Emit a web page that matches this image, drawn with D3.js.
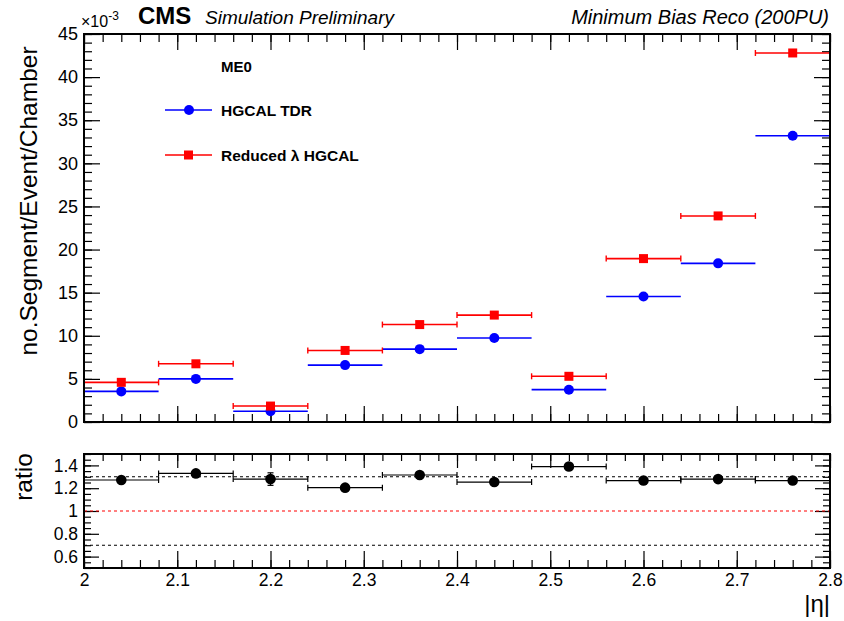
<!DOCTYPE html>
<html>
<head>
<meta charset="utf-8">
<script src="https://cdn.jsdelivr.net/npm/d3@7/dist/d3.min.js"></script>
<style>
  body { margin: 0; background: #fff; }
  svg { display: block; }
  text { font-family: "Liberation Sans", Arial, Helvetica, sans-serif; fill: #000; }
</style>
</head>
<body>
<svg id="chart" width="844" height="621"></svg>
<script>
// ---- data ----
const binEdges = [2.00, 2.08, 2.16, 2.24, 2.32, 2.40, 2.48, 2.56, 2.64, 2.72, 2.80];
const binCenters = [2.04, 2.12, 2.20, 2.28, 2.36, 2.44, 2.52, 2.60, 2.68, 2.76];
// no.Segment/Event/Chamber (x 10^-3)
const hgcalTDR = [3.55, 5.0, 1.25, 6.6, 8.45, 9.75, 3.75, 14.55, 18.4, 33.2];
const reducedLambda = [4.6, 6.75, 1.85, 8.3, 11.3, 12.4, 5.3, 18.95, 23.9, 42.8];
const ratio = [1.272, 1.33, 1.28, 1.205, 1.316, 1.254, 1.39, 1.267, 1.28, 1.267];
const ratioErr = [0.01, 0.01, 0.055, 0.01, 0.01, 0.01, 0.01, 0.01, 0.01, 0.01];
const xMajorTicks = [2.0, 2.1, 2.2, 2.3, 2.4, 2.5, 2.6, 2.7, 2.8];
const xTickLabels = ["2", "2.1", "2.2", "2.3", "2.4", "2.5", "2.6", "2.7", "2.8"];
const yMajorTicks = [0, 5, 10, 15, 20, 25, 30, 35, 40, 45];
const ratioMajorTicks = [0.6, 0.8, 1.0, 1.2, 1.4];
const ratioTickLabels = ["0.6", "0.8", "1", "1.2", "1.4"];
const ratioRefLines = [1.3, 1.0, 0.7];

// ---- layout ----
const L = 84, R = 830;
const topT = 34, topB = 422;
const ratT = 454, ratB = 568;

const svg = d3.select("#chart");
const x = d3.scaleLinear().domain([2, 2.8]).range([L, R]);
const y = d3.scaleLinear().domain([0, 45]).range([topB, topT]);
const yr = d3.scaleLinear().domain([0.5, 1.5]).range([ratB, ratT]);

const xMinor = d3.range(0, 41).map(i => 2 + i * 0.02);
const yMinor = d3.range(0, 46);
const rMinor = d3.range(0, 21).map(i => 0.5 + i * 0.05);

function tickAxis(g, axisFn, scale, values, size, labels, fmt, pad, fs) {
  const a = axisFn(scale).tickValues(values).tickSizeInner(-size).tickSizeOuter(0)
    .tickPadding(pad || 0)
    .tickFormat(labels ? ((d, i) => fmt[i]) : () => "");
  g.call(a);
  g.select(".domain").remove();
  g.selectAll(".tick line").attr("stroke", "#000").attr("stroke-width", 1.2);
  g.selectAll(".tick text").style("font-family", '"Liberation Sans", Arial, sans-serif')
    .style("font-size", (fs || 17) + "px").attr("fill", "#000");
}

// ---- top panel ticks ----
tickAxis(svg.append("g").attr("transform", `translate(0,${topB})`), d3.axisBottom, x, xMinor, 8);
tickAxis(svg.append("g").attr("transform", `translate(0,${topB})`), d3.axisBottom, x, xMajorTicks, 16);
tickAxis(svg.append("g").attr("transform", `translate(0,${topT})`), d3.axisTop, x, xMinor, 8);
tickAxis(svg.append("g").attr("transform", `translate(0,${topT})`), d3.axisTop, x, xMajorTicks, 16);
tickAxis(svg.append("g").attr("transform", `translate(${L},0)`), d3.axisLeft, y, yMinor, 8);
tickAxis(svg.append("g").attr("transform", `translate(${L},0)`), d3.axisLeft, y, yMajorTicks, 16,
  true, yMajorTicks.map(String), 6, 18);
tickAxis(svg.append("g").attr("transform", `translate(${R},0)`), d3.axisRight, y, yMinor, 8);
tickAxis(svg.append("g").attr("transform", `translate(${R},0)`), d3.axisRight, y, yMajorTicks, 16);

// ---- ratio panel ticks ----
tickAxis(svg.append("g").attr("transform", `translate(0,${ratB})`), d3.axisBottom, x, xMinor, 8);
tickAxis(svg.append("g").attr("transform", `translate(0,${ratB})`), d3.axisBottom, x, xMajorTicks, 17,
  true, xTickLabels, 6, 17.5);
tickAxis(svg.append("g").attr("transform", `translate(0,${ratT})`), d3.axisTop, x, xMinor, 7);
tickAxis(svg.append("g").attr("transform", `translate(0,${ratT})`), d3.axisTop, x, xMajorTicks, 14);
tickAxis(svg.append("g").attr("transform", `translate(${L},0)`), d3.axisLeft, yr, rMinor, 7);
tickAxis(svg.append("g").attr("transform", `translate(${L},0)`), d3.axisLeft, yr, ratioMajorTicks, 15,
  true, ratioTickLabels, 6, 17.5);
tickAxis(svg.append("g").attr("transform", `translate(${R},0)`), d3.axisRight, yr, rMinor, 7);
tickAxis(svg.append("g").attr("transform", `translate(${R},0)`), d3.axisRight, yr, ratioMajorTicks, 15);

// ---- top panel data ----
const gTop = svg.append("g");
gTop.selectAll("line.blue").data(hgcalTDR).join("line")
  .attr("x1", (d, i) => x(binEdges[i])).attr("x2", (d, i) => x(binEdges[i + 1]))
  .attr("y1", d => y(d)).attr("y2", d => y(d))
  .attr("stroke", "#0000ff").attr("stroke-width", 1.6);
gTop.selectAll("line.red").data(reducedLambda).join("line")
  .attr("x1", (d, i) => x(binEdges[i])).attr("x2", (d, i) => x(binEdges[i + 1]))
  .attr("y1", d => y(d)).attr("y2", d => y(d))
  .attr("stroke", "#ff0000").attr("stroke-width", 1.6);
reducedLambda.forEach((d, i) => {
  [binEdges[i], binEdges[i + 1]].forEach(e => {
    if (e <= 2.0 || e >= 2.8) return;
    gTop.append("line").attr("x1", x(e)).attr("x2", x(e))
      .attr("y1", y(d) - 3).attr("y2", y(d) + 3)
      .attr("stroke", "#ff0000").attr("stroke-width", 1.4);
  });
});
gTop.selectAll("circle.blue").data(hgcalTDR).join("circle")
  .attr("cx", (d, i) => x(binCenters[i])).attr("cy", d => y(d)).attr("r", 5)
  .attr("fill", "#0000ff");
gTop.selectAll("rect.red").data(reducedLambda).join("rect")
  .attr("x", (d, i) => x(binCenters[i]) - 4.5).attr("y", d => y(d) - 4.5)
  .attr("width", 9).attr("height", 9).attr("fill", "#ff0000");

// ---- ratio panel data ----
const gR = svg.append("g");
const refColors = ["#000", "#ff0000", "#000"];
ratioRefLines.forEach((v, i) => {
  gR.append("line").attr("x1", L).attr("x2", R).attr("y1", yr(v)).attr("y2", yr(v))
    .attr("stroke", refColors[i]).attr("stroke-width", 1.1).attr("stroke-dasharray", "3,3");
});
ratio.forEach((d, i) => {
  const yy = yr(d);
  gR.append("line").attr("x1", x(binEdges[i])).attr("x2", x(binEdges[i + 1]))
    .attr("y1", yy).attr("y2", yy).attr("stroke", "#000").attr("stroke-width", 1.2);
  [binEdges[i], binEdges[i + 1]].forEach(e => {
    if (e <= 2.0 || e >= 2.8) return;
    gR.append("line").attr("x1", x(e)).attr("x2", x(e)).attr("y1", yy - 3).attr("y2", yy + 3)
      .attr("stroke", "#000").attr("stroke-width", 1.2);
  });
  const cx = x(binCenters[i]);
  gR.append("line").attr("x1", cx).attr("x2", cx)
    .attr("y1", yr(d - ratioErr[i])).attr("y2", yr(d + ratioErr[i]))
    .attr("stroke", "#000").attr("stroke-width", 1.2);
  [d - ratioErr[i], d + ratioErr[i]].forEach(v => {
    gR.append("line").attr("x1", cx - 3).attr("x2", cx + 3).attr("y1", yr(v)).attr("y2", yr(v))
      .attr("stroke", "#000").attr("stroke-width", 1.2);
  });
});
gR.selectAll("circle").data(ratio).join("circle")
  .attr("cx", (d, i) => x(binCenters[i])).attr("cy", d => yr(d)).attr("r", 5.3).attr("fill", "#000");

// ---- frames ----
svg.append("rect").attr("x", L).attr("y", topT).attr("width", R - L).attr("height", topB - topT)
  .attr("fill", "none").attr("stroke", "#000").attr("stroke-width", 2);
svg.append("rect").attr("x", L).attr("y", ratT).attr("width", R - L).attr("height", ratB - ratT)
  .attr("fill", "none").attr("stroke", "#000").attr("stroke-width", 2);

// ---- titles ----
svg.append("text").attr("transform", "translate(37,201) rotate(-90)")
  .attr("text-anchor", "middle").style("font-size", "24.5px").text("no.Segment/Event/Chamber");
svg.append("text").attr("transform", "translate(32,477) rotate(-90)")
  .attr("text-anchor", "middle").style("font-size", "24.5px").text("ratio");
svg.append("text").attr("x", 830).attr("y", 612).attr("text-anchor", "end")
  .style("font-size", "24px").text("|η|");

// exponent
const ex = svg.append("text").attr("x", 81).attr("y", 27).style("font-size", "16px");
ex.append("tspan").text("×10");
ex.append("tspan").attr("dy", -7).style("font-size", "12px").text("-3");

svg.append("text").attr("x", 138).attr("y", 24).style("font-size", "24px")
  .style("font-weight", "bold").text("CMS");
svg.append("text").attr("x", 205).attr("y", 24).style("font-size", "19px")
  .style("font-style", "italic").text("Simulation Preliminary");
svg.append("text").attr("x", 829).attr("y", 24).attr("text-anchor", "end").style("font-size", "20px")
  .style("font-style", "italic").text("Minimum Bias Reco (200PU)");

// ---- legend ----
const lg = svg.append("g");
lg.append("text").attr("x", 221).attr("y", 72).style("font-size", "15px").style("font-weight", "bold").text("ME0");
lg.append("line").attr("x1", 165).attr("x2", 212).attr("y1", 110).attr("y2", 110)
  .attr("stroke", "#0000ff").attr("stroke-width", 1.6);
lg.append("circle").attr("cx", 189).attr("cy", 110).attr("r", 5).attr("fill", "#0000ff");
lg.append("text").attr("x", 221).attr("y", 116).style("font-size", "15.5px").style("font-weight", "bold").text("HGCAL TDR");
lg.append("line").attr("x1", 165).attr("x2", 212).attr("y1", 155).attr("y2", 155)
  .attr("stroke", "#ff0000").attr("stroke-width", 1.6);
lg.append("rect").attr("x", 184).attr("y", 150.5).attr("width", 9).attr("height", 9).attr("fill", "#ff0000");
lg.append("text").attr("x", 221).attr("y", 161).style("font-size", "15.5px").style("font-weight", "bold").text("Reduced λ HGCAL");
</script>
</body>
</html>
